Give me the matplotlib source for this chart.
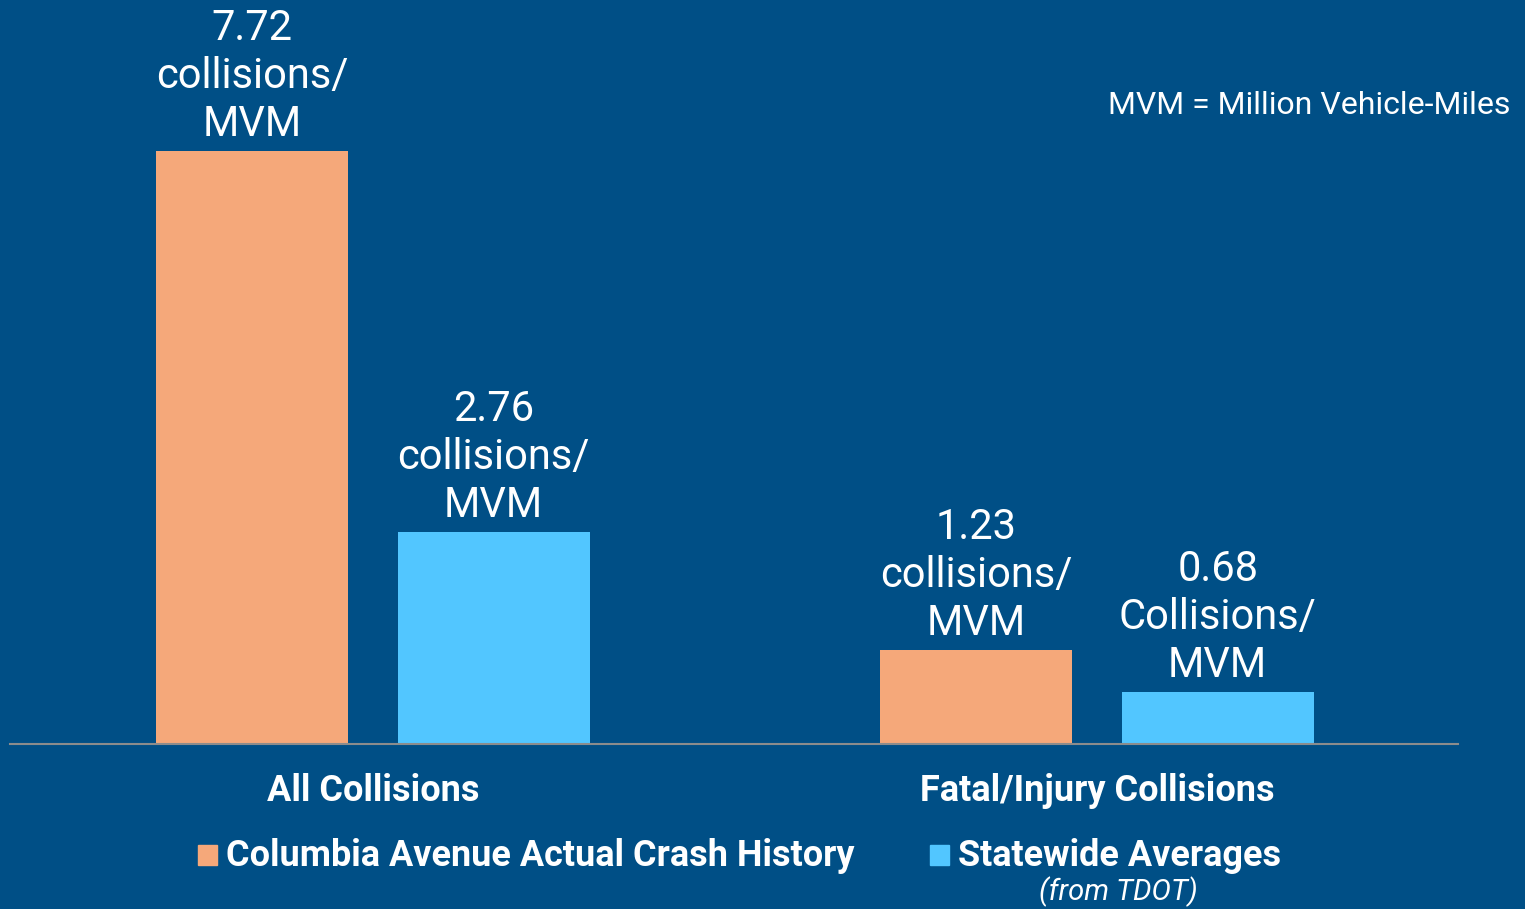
import matplotlib

matplotlib.use("Agg")
import matplotlib.pyplot as plt
import numpy as np
from matplotlib.patches import Rectangle

# Dades del grafic
categories = ["All Collisions", "Fatal/Injury Collisions"]
columbia = [7.72, 1.23]
statewide = [2.76, 0.68]
etiquetes_columbia = ["7.72\ncollisions/\nMVM", "1.23\ncollisions/\nMVM"]
etiquetes_statewide = ["2.76\ncollisions/\nMVM", "0.68\nCollisions/\nMVM"]
nom_series = ["Columbia Avenue Actual Crash History", "Statewide Averages"]

fons = "#004F86"
taronja = "#F5A87A"
cian = "#52C6FF"
font_nom = ["Roboto", "DejaVu Sans"]

fig = plt.figure(figsize=(15.25, 9.09), dpi=100)
fig.patch.set_facecolor(fons)

W, H = 1525, 909
base_px = 744
ax = fig.add_axes([10 / W, (H - base_px) / H, (1458 - 10) / W, base_px / H])
ax.set_facecolor(fons)
escala = 593 / 7.72
ax.set_ylim(0, base_px / escala)
ax.set_xlim(-0.5014, 1.4986)

x = np.arange(len(categories))
amplada = 0.265
desp = 0.1667
ax.bar(x - desp, columbia, amplada, color=taronja, zorder=2)
ax.bar(x + desp, statewide, amplada, color=cian, zorder=2)

for xi, v, t in zip(x - desp, columbia, etiquetes_columbia):
    ax.annotate(t, (xi, v), xytext=(0, 4), textcoords="offset points",
                ha="center", va="bottom", color="white", fontsize=30,
                family=font_nom, linespacing=1.22)
for xi, v, t in zip(x + desp, statewide, etiquetes_statewide):
    ax.annotate(t, (xi, v), xytext=(0, 4), textcoords="offset points",
                ha="center", va="bottom", color="white", fontsize=30,
                family=font_nom, linespacing=1.22)

for s in ["top", "right", "left"]:
    ax.spines[s].set_visible(False)
ax.spines["bottom"].set_color("#8C8C8C")
ax.spines["bottom"].set_linewidth(1.5)
ax.set_yticks([])
ax.set_xticks(x)
ax.set_xticklabels(categories, color="white", fontsize=26, fontweight="bold",
                   family=font_nom)
ax.tick_params(axis="x", length=0, pad=21)

# Llegenda feta a ma
fig.add_artist(Rectangle((198 / W, 1 - 865 / H), 19 / W, 20 / H,
                         transform=fig.transFigure, color=taronja))
fig.text(226 / W, 1 - 856 / H, nom_series[0], color="white", fontsize=25.9,
         fontweight="bold", family=font_nom, ha="left", va="center")
fig.add_artist(Rectangle((930 / W, 1 - 865 / H), 19 / W, 20 / H,
                         transform=fig.transFigure, color=cian))
fig.text(958 / W, 1 - 856 / H, nom_series[1], color="white", fontsize=25.9,
         fontweight="bold", family=font_nom, ha="left", va="center")
fig.text(1118 / W, 1 - 892 / H, "(from TDOT)", color="white", fontsize=21,
         style="italic", family=font_nom, ha="center", va="center")

fig.text(1510 / W, 1 - 105 / H, "MVM = Million Vehicle-Miles", color="white",
         fontsize=23, family=font_nom, ha="right", va="center")

fig.savefig("out.png", dpi=100, facecolor=fons)
